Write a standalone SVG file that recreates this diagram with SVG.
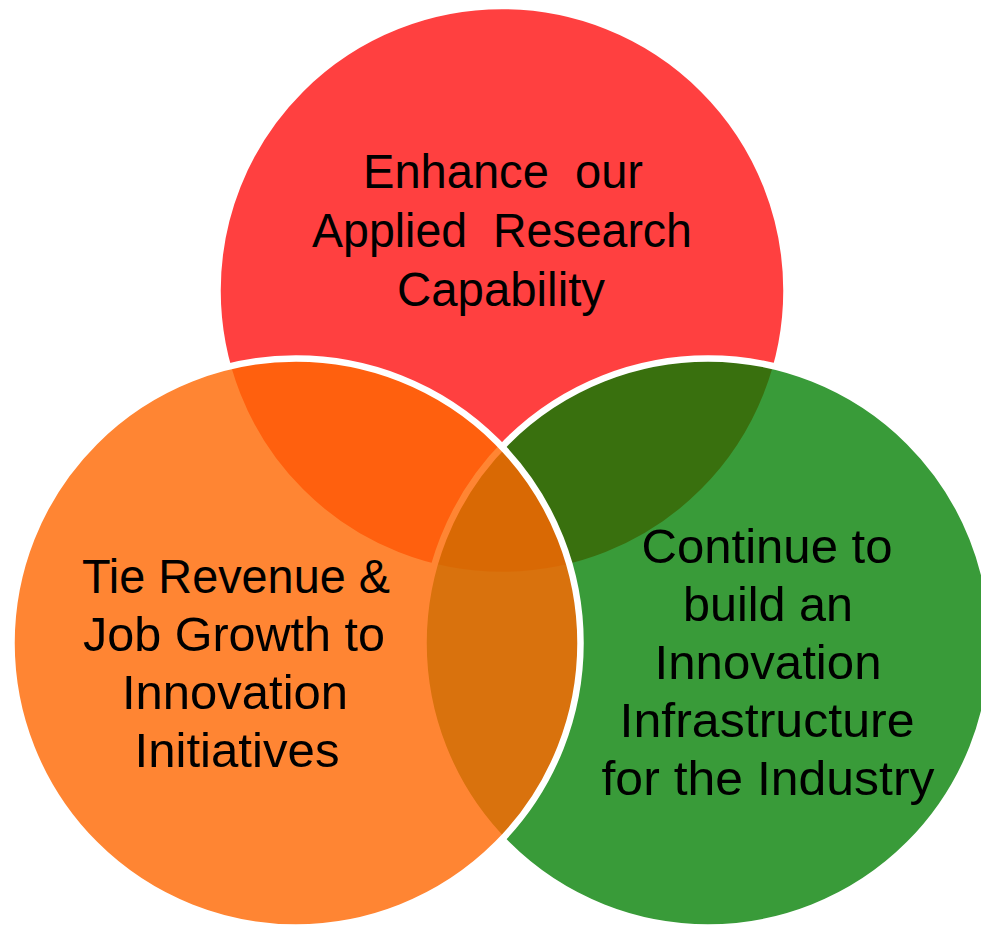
<svg xmlns="http://www.w3.org/2000/svg" width="981" height="925" viewBox="0 0 981 925">
  <style>
    .c { stroke: #FFFFFF; stroke-width: 6.5; }
    .t { font-family: "Liberation Sans", Arial, sans-serif; font-size: 47.5px; fill: #000000; text-anchor: middle; white-space: pre; }
  </style>
  <rect x="0" y="0" width="981" height="925" fill="#FFFFFF"/>
  <g id="node-research">
    <circle class="c" cx="502" cy="290.5" r="284.5" fill="#FF4040"/>
  </g>
  <g id="node-infrastructure">
    <circle class="c" cx="708" cy="643" r="284.5" fill="rgb(0,126,0)" fill-opacity="0.775"/>
  </g>
  <g id="node-revenue">
    <circle class="c" cx="296" cy="643" r="284.5" fill="rgb(255,104,2)" fill-opacity="0.806"/>
  </g>
  <g id="labels">
    <text class="t" xml:space="preserve" x="503" y="188" textLength="280" lengthAdjust="spacingAndGlyphs">Enhance  our</text>
    <text class="t" xml:space="preserve" x="502" y="247" textLength="380" lengthAdjust="spacingAndGlyphs">Applied  Research</text>
    <text class="t" x="501" y="306" textLength="208" lengthAdjust="spacingAndGlyphs">Capability</text>
    <text class="t" x="236" y="593" textLength="308" lengthAdjust="spacingAndGlyphs">Tie Revenue &amp;</text>
    <text class="t" x="234" y="651" textLength="302" lengthAdjust="spacingAndGlyphs">Job Growth to</text>
    <text class="t" x="235" y="709" textLength="226" lengthAdjust="spacingAndGlyphs">Innovation</text>
    <text class="t" x="237" y="767" textLength="205" lengthAdjust="spacingAndGlyphs">Initiatives</text>
    <text class="t" x="767" y="563" textLength="251" lengthAdjust="spacingAndGlyphs">Continue to</text>
    <text class="t" x="768" y="621" textLength="170" lengthAdjust="spacingAndGlyphs">build an</text>
    <text class="t" x="768" y="679" textLength="227" lengthAdjust="spacingAndGlyphs">Innovation</text>
    <text class="t" x="767" y="737" textLength="295" lengthAdjust="spacingAndGlyphs">Infrastructure</text>
    <text class="t" x="768" y="795" textLength="333" lengthAdjust="spacingAndGlyphs">for the Industry</text>
  </g>
</svg>
